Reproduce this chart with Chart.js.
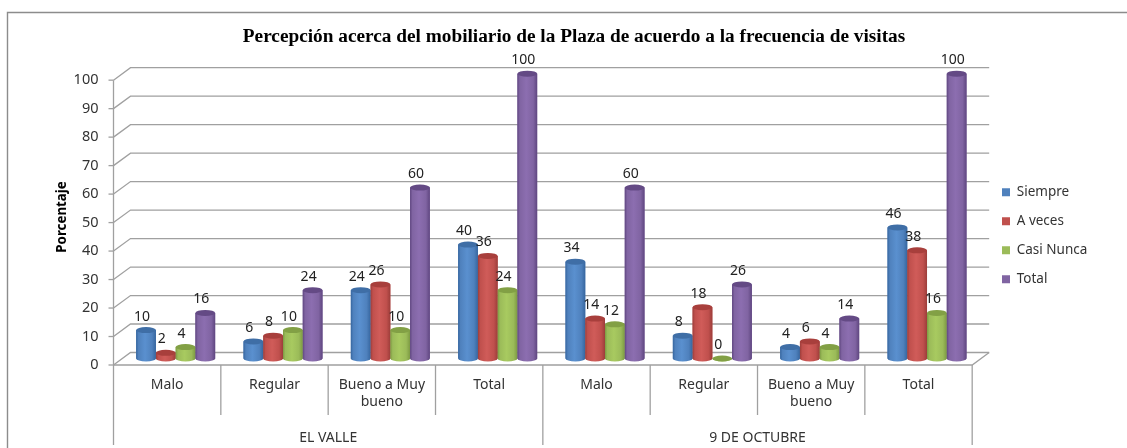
<!DOCTYPE html>
<html><head><meta charset="utf-8">
<style>html,body{margin:0;padding:0;background:#fff;overflow:hidden}canvas{display:block}</style>
<script src="https://cdn.jsdelivr.net/npm/chart.js@4"></script></head>
<body><canvas id="c" width="1127" height="448"></canvas>
<script>
const categories = ["Malo","Regular",["Bueno a Muy","bueno"],"Total","Malo","Regular",["Bueno a Muy","bueno"],"Total"];
const groups = ["EL VALLE","9 DE OCTUBRE"];
const siempre = [10,6,24,40,34,8,4,46];
const aVeces = [2,8,26,36,14,18,6,38];
const casiNunca = [4,10,10,24,12,0,4,16];
const total = [16,24,60,100,60,26,14,100];
const titleText = "Percepción acerca del mobiliario de la Plaza de acuerdo a la frecuencia de visitas";
const yTitle = "Porcentaje";
const palette = {
  blue:  {base:"#4f81bd",dark:"#36669f",light:"#5a90cf",cap:"#3f6ea6"},
  red:   {base:"#c0504d",dark:"#9c3d3a",light:"#d05c59",cap:"#a83f3c"},
  green: {base:"#9bbb59",dark:"#7c9a42",light:"#a8ca60",cap:"#82a045"},
  purple:{base:"#8064a2",dark:"#5f4680",light:"#8c6eb0",cap:"#644a85"}
};
const DEPTH_X = 17, DEPTH_Y = 12.5, BAR_DX = 8.5, BAR_DY = -6.5, CAP_RY = 3;
const GRID = "#a0a0a0";
const TXT = "#333";

const line = (ctx,pts,color,w)=>{ctx.beginPath();ctx.strokeStyle=color;ctx.lineWidth=w;pts.forEach((p,i)=>i?ctx.lineTo(p[0],p[1]):ctx.moveTo(p[0],p[1]));ctx.stroke();};

const wall = {
  id:"wall",
  afterLayout(chart){
    const l = chart.legend; l.left=986.5; l.right=1127; l.top=170; l.bottom=448;
    const t = chart.titleBlock; t.left = 21; t.right = 1127;
  },
  beforeDatasetsDraw(chart){
    const {ctx,chartArea:a,scales:{x,y}} = chart;
    ctx.save();
    line(ctx,[[7.5,448],[7.5,12.5],[1127,12.5]],"#8c8c8c",1.4);
    y.ticks.forEach(t=>{
      const p = y.getPixelForValue(t.value);
      line(ctx,[[a.left,p],[a.left+DEPTH_X,p-DEPTH_Y],[a.right+DEPTH_X,p-DEPTH_Y]],GRID,1.3);
      line(ctx,[[a.left-5,p],[a.left,p]],GRID,1.3);
    });
    const b = y.getPixelForValue(0);
    line(ctx,[[a.left,b],[a.right,b],[a.right+DEPTH_X,b-DEPTH_Y]],GRID,1.3);
    line(ctx,[[a.left,a.top],[a.left,445]],GRID,1.3);
    line(ctx,[[a.right,b],[a.right,445]],GRID,1.3);
    const step = (a.right-a.left)/categories.length;
    categories.forEach((c,i)=>{ if(i===0) return;
      line(ctx,[[a.left+i*step,b],[a.left+i*step,i===4?445:415]],GRID,1.3);
    });
    ctx.fillStyle="#000"; ctx.font="bold 13.3px 'Noto Sans'"; ctx.textAlign="center"; ctx.textBaseline="middle";
    ctx.translate(62,217); ctx.rotate(-Math.PI/2); ctx.fillText(yTitle,0,0);
    ctx.restore();
    ctx.save();
    ctx.translate(BAR_DX,BAR_DY);
  },
  afterDatasetsDraw(chart){
    const {ctx,data} = chart;
    data.datasets.forEach((ds,di)=>{
      const pal = ds.pal;
      chart.getDatasetMeta(di).data.forEach(el=>{
        const {x,y,base,width} = el.getProps(["x","y","base","width"],true);
        const l=x-width/2, rx=width/2;
        const g = ctx.createLinearGradient(l,0,l+width,0);
        g.addColorStop(0,pal.dark); g.addColorStop(.12,pal.base); g.addColorStop(.45,pal.light);
        g.addColorStop(.8,pal.base); g.addColorStop(1,pal.dark);
        ctx.fillStyle = g;
        ctx.beginPath();
        ctx.moveTo(l,y);
        ctx.lineTo(l,base);
        ctx.ellipse(x,base,rx,CAP_RY,0,Math.PI,0,true);
        ctx.lineTo(l+width,y);
        ctx.closePath(); ctx.fill();
        ctx.fillStyle = pal.cap;
        ctx.beginPath(); ctx.ellipse(x,y,rx,CAP_RY,0,0,Math.PI*2); ctx.fill();
      });
    });
    ctx.restore();
    ctx.save();
    ctx.fillStyle="#222"; ctx.font="14px 'Noto Sans'"; ctx.textAlign="center"; ctx.textBaseline="middle";
    data.datasets.forEach((ds,di)=>{
      chart.getDatasetMeta(di).data.forEach((el,i)=>{
        ctx.fillText(String(ds.data[i]), el.x+BAR_DX-4, el.y+BAR_DY-13.5);
      });
    });
    ctx.restore();
  }
};

const mk = (label,data,pal)=>({label,data,pal,backgroundColor:pal.base,borderWidth:0,clip:false,xAxisID:"x",yAxisID:"y",categoryPercentage:.736,barPercentage:1});

new Chart(document.getElementById("c"),{
  type:"bar",
  data:{labels:categories,datasets:[
    mk("Siempre",siempre,palette.blue),mk("A veces",aVeces,palette.red),
    mk("Casi Nunca",casiNunca,palette.green),mk("Total",total,palette.purple)]},
  plugins:[wall],
  options:{
    responsive:false,animation:false,devicePixelRatio:1,
    layout:{autoPadding:false,padding:{right:44}},
    plugins:{
      tooltip:{enabled:false},
      title:{display:true,text:titleText,color:"#000",font:{family:"'Liberation Serif'",size:19.3,weight:"bold"},padding:{top:25,bottom:32}},
      legend:{position:"right",align:"start",labels:{boxWidth:8,boxHeight:8,padding:15.5,color:TXT,font:{family:"'Noto Sans'",size:13.5}}}
    },
    scales:{
      x:{type:"category",position:"bottom",grid:{display:false},border:{display:false},
         ticks:{color:TXT,font:{family:"'Noto Sans'",size:14,lineHeight:1.2},padding:4,maxRotation:0,minRotation:0,autoSkip:false},
         afterFit(s){s.height=50;}},
      x2:{type:"category",position:"bottom",labels:groups,grid:{display:false},border:{display:false},
         ticks:{color:TXT,font:{family:"'Noto Sans'",size:14},padding:7,maxRotation:0},
         afterFit(s){s.height=33;}},
      y:{min:0,max:100,position:"left",grid:{display:false},border:{display:false},
         ticks:{stepSize:10,color:TXT,font:{family:"'Noto Sans'",size:14.5},padding:7},
         afterFit(s){s.width=113.5;}}
    }
  }
});
</script></body></html>
